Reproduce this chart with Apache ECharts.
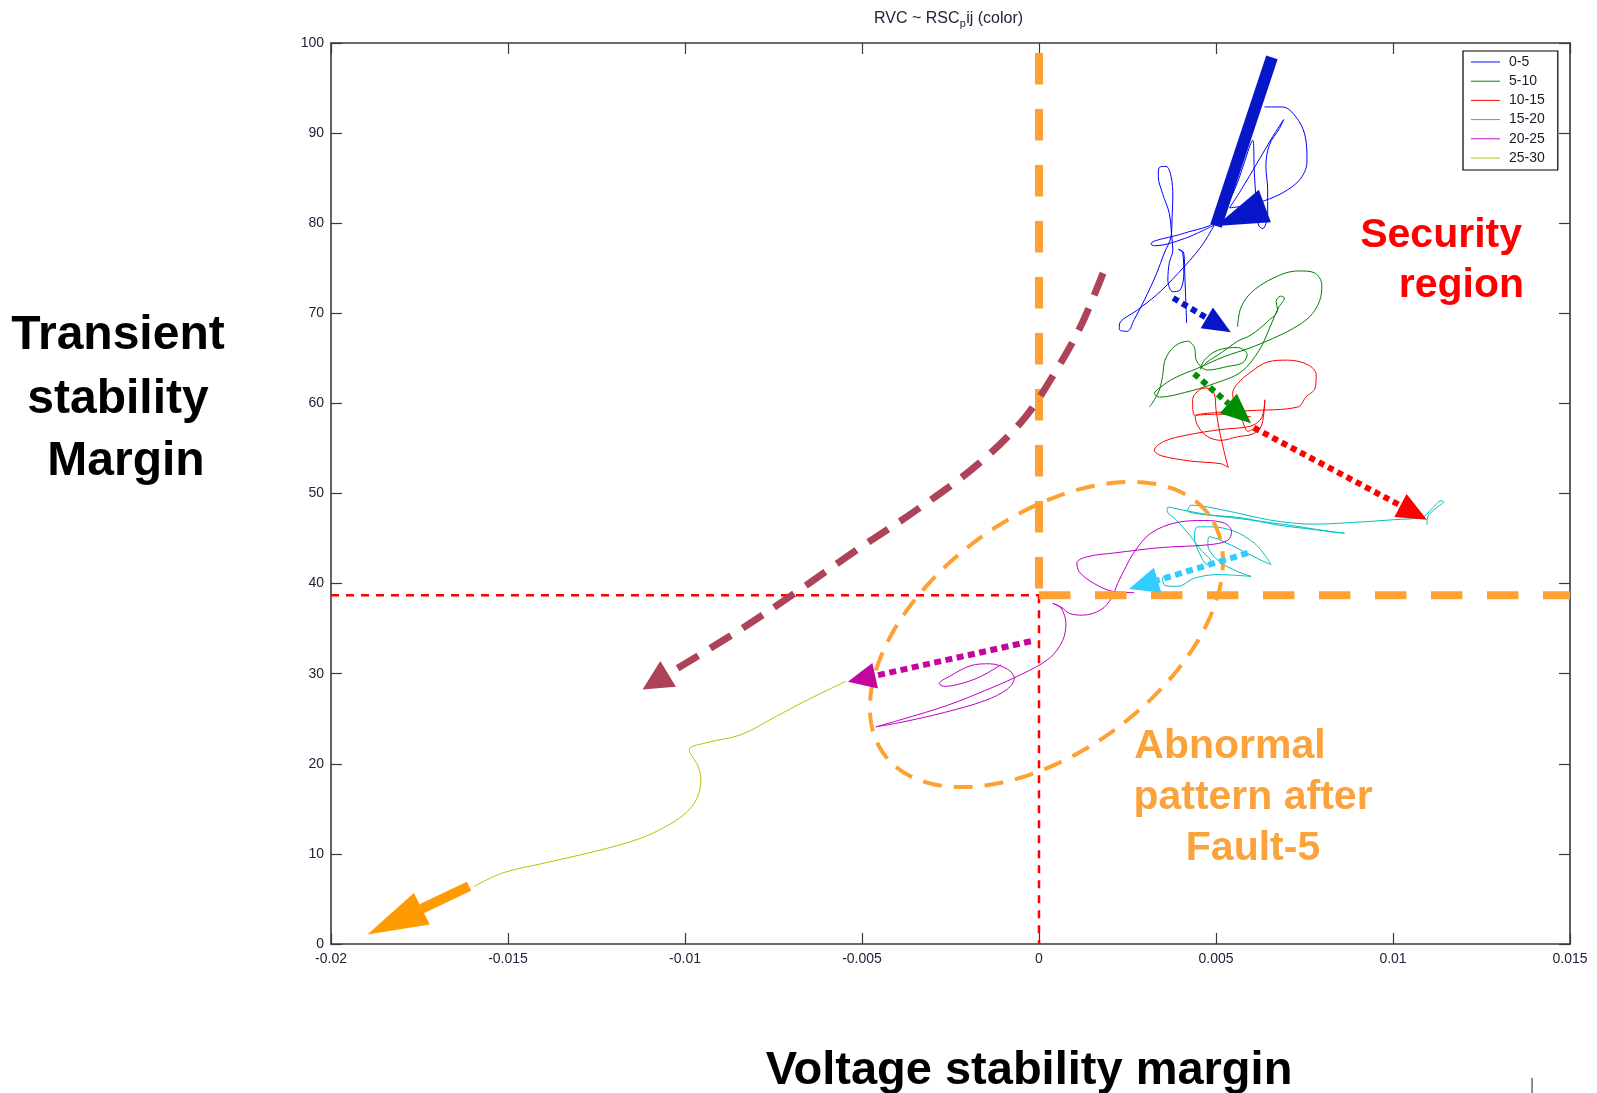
<!DOCTYPE html>
<html>
<head>
<meta charset="utf-8">
<script src="https://cdn.jsdelivr.net/npm/echarts@6/dist/echarts.min.js"></script>
<style>
  html, body { margin: 0; padding: 0; background: #ffffff; }
  #chart { width: 1597px; height: 1093px; }
</style>
</head>
<body>
<div id="chart"></div>
<script>
// ---- Operating-point trajectories: [voltage stability margin, transient stability margin] ----
const seriesNames = ['0-5', '5-10', '10-15', '15-20', '20-25', '25-30'];

const traj0to5 = [
  [0.00637,92.9],[0.00688,92.9],[0.00733,91.4],[0.00754,89.2],[0.00757,86.8],[0.00740,85.0],
  [0.00702,83.7],[0.00651,82.7],[0.00590,82.0],[0.00538,81.7],[0.00571,83.7],[0.00618,86.8],
  [0.00660,89.6],[0.00691,91.5],[0.00679,90.5],[0.00651,88.7],[0.00641,86.3],[0.00646,83.7],
  [0.00646,81.1],[0.00632,79.4],[0.00620,79.8],[0.00613,82.6],[0.00608,85.9],[0.00604,89.2],
  [0.00552,83.7],[0.00500,80.2],[0.00411,78.9],[0.00316,77.7],[0.00326,77.5],[0.00411,78.3],
  [0.00495,79.8],[0.00458,77.4],[0.00392,74.4],[0.00331,72.0],[0.00279,70.4],[0.00227,68.7],
  [0.00227,68.2],[0.00249,68.0],[0.00269,69.3],[0.00298,71.5],[0.00331,74.3],[0.00354,76.7],
  [0.00373,78.5],[0.00376,80.7],[0.00378,82.9],[0.00373,85.2],[0.00359,86.3],[0.00340,86.2],
  [0.00337,85.2],[0.00349,83.3],[0.00368,81.1],[0.00375,78.5],[0.00378,77.0],[0.00368,75.6],
  [0.00364,73.7],[0.00378,72.4],[0.00399,72.6],[0.00409,74.4],[0.00406,76.7],[0.00394,77.1],
  [0.00409,76.7],[0.00412,74.1],[0.00415,71.1],[0.00417,68.9]
];

const traj5to10 = [
  [0.00561,68.5],[0.00571,70.7],[0.00608,72.6],[0.00684,74.3],[0.00735,74.7],[0.00778,74.5],
  [0.00799,73.1],[0.00792,71.3],[0.00764,69.6],[0.00717,68.3],[0.00660,67.2],[0.00599,66.2],
  [0.00524,65.2],[0.00448,63.9],[0.00382,62.8],[0.00340,61.7],[0.00326,61.1],[0.00340,60.7],
  [0.00411,61.2],[0.00495,62.2],[0.00571,63.5],[0.00622,65.9],[0.00655,68.7],[0.00676,70.6],
  [0.00693,71.7],[0.00682,71.9],[0.00670,71.3],[0.00674,70.4],[0.00646,69.1],[0.00599,67.6],
  [0.00561,66.9],[0.00514,65.6],[0.00472,64.5],[0.00456,63.8],[0.00467,64.8],[0.00505,65.9],
  [0.00561,66.2],[0.00588,65.4],[0.00575,64.5],[0.00533,64.1],[0.00477,63.7],[0.00444,64.8],
  [0.00439,66.2],[0.00420,66.9],[0.00382,66.3],[0.00356,64.8],[0.00349,63.0],[0.00340,61.5],
  [0.00326,60.4],[0.00312,59.6]
];

const traj10to15 = [
  [0.00599,58.5],[0.00505,58.8],[0.00439,58.7],[0.00434,60.4],[0.00453,61.5],[0.00477,61.7],
  [0.00495,61.1],[0.00500,59.3],[0.00509,57.1],[0.00522,54.8],[0.00531,53.4],[0.00535,52.9],
  [0.00514,53.3],[0.00429,53.6],[0.00345,54.2],[0.00326,54.8],[0.00354,55.8],[0.00420,56.5],
  [0.00514,57.1],[0.00590,57.4],[0.00618,57.9],[0.00632,58.7],[0.00638,60.4],[0.00635,58.9],
  [0.00627,57.4],[0.00604,56.6],[0.00561,56.3],[0.00514,55.9],[0.00477,56.3],[0.00450,57.4],
  [0.00441,58.5],[0.00505,59.0],[0.00599,59.2],[0.00731,59.6],[0.00754,60.7],[0.00780,61.7],
  [0.00783,63.2],[0.00759,64.3],[0.00702,64.8],[0.00646,64.6],[0.00599,63.5],[0.00561,62.2],
  [0.00547,61.1],[0.00557,59.5],[0.00575,58.0],[0.00590,56.9],[0.00608,57.2]
];

const traj15to20 = [
  [0.01096,46.5],[0.01098,47.4],[0.01122,48.4],[0.01143,49.1],[0.01136,49.2],[0.01112,48.4],
  [0.01084,47.4],[0.01004,47.1],[0.00891,46.8],[0.00778,46.6],[0.00721,46.7],[0.00646,47.1],
  [0.00552,47.9],[0.00477,48.5],[0.00429,48.7],[0.00420,48.1],[0.00458,47.7],[0.00571,47.3],
  [0.00674,46.5],[0.00778,46.0],[0.00863,45.6],[0.00834,45.7],[0.00721,46.4],[0.00590,47.1],
  [0.00486,47.6],[0.00401,48.2],[0.00364,48.5],[0.00362,48.1],[0.00387,47.1],[0.00425,45.4],
  [0.00458,43.7],[0.00486,42.4],[0.00477,42.1],[0.00458,43.0],[0.00439,45.2],[0.00448,46.3],
  [0.00486,46.3],[0.00552,45.8],[0.00608,44.5],[0.00641,43.0],[0.00655,42.1],[0.00627,42.6],
  [0.00571,43.7],[0.00514,44.8],[0.00481,45.2],[0.00477,44.3],[0.00505,42.6],[0.00552,41.5],
  [0.00599,40.8],[0.00505,41.0],[0.00439,40.6],[0.00392,39.7],[0.00356,39.8],[0.00349,40.6],
  [0.00364,41.0]
];

const traj20to25 = [
  [0.00269,39.0],[0.00213,39.1],[0.00156,40.0],[0.00114,41.3],[0.00107,42.3],[0.00138,43.0],
  [0.00213,43.4],[0.00345,44.0],[0.00477,44.3],[0.00533,44.8],[0.00544,45.8],[0.00524,46.7],
  [0.00467,47.0],[0.00392,46.8],[0.00316,45.6],[0.00269,43.5],[0.00246,41.9],[0.00222,40.0],
  [0.00205,38.4],[0.00175,37.1],[0.00123,36.5],[0.00086,36.7],[0.00062,37.4],[0.00039,37.8],
  [0.00062,37.3],[0.00076,35.6],[0.00067,33.7],[0.00029,31.7],[-0.00051,29.9],[-0.00136,28.4],
  [-0.00258,26.5],[-0.00390,24.9],[-0.00461,24.1],[-0.00390,24.6],[-0.00267,25.7],[-0.00154,27.0],
  [-0.00089,28.3],[-0.00070,29.5],[-0.00089,30.5],[-0.00140,31.1],[-0.00192,30.9],[-0.00253,29.7],
  [-0.00282,28.9],[-0.00267,28.6],[-0.00220,28.9],[-0.00164,29.7],[-0.00107,31.0]
];

const traj25to30 = [
  [-0.00546,29.15],[-0.00662,26.93],[-0.00742,25.27],[-0.00842,23.23],[-0.00943,22.31],
  [-0.00988,21.57],[-0.00963,19.72],[-0.00955,18.24],[-0.00968,16.03],[-0.01003,14.36],
  [-0.01053,13.07],[-0.01123,11.77],[-0.01234,10.48],[-0.01395,9.00],[-0.01515,7.89],
  [-0.01595,6.41]
];

const trajectories = [traj0to5, traj5to10, traj10to15, traj15to20, traj20to25, traj25to30];
const trajColors = ['#0000ff', '#008000', '#ff0000', '#00bfbf', '#bf00bf', '#bfbf00'];

// ---- Axis tick labels ----
const xTickLabels = ['-0.02', '-0.015', '-0.01', '-0.005', '0', '0.005', '0.01', '0.015'];
const yTickLabels = ['0', '10', '20', '30', '40', '50', '60', '70', '80', '90', '100'];

// ---- Security limits (voltage margin 0, transient margin threshold) ----
const vsmLimit = 0;
const tsmLimit = 38.7;
const securityBoundary = [[vsmLimit, 98.9], [vsmLimit, tsmLimit], [0.015, tsmLimit]];
const insecureBoundaryH = [[-0.02, tsmLimit], [vsmLimit, tsmLimit]];
const insecureBoundaryV = [[vsmLimit, tsmLimit], [vsmLimit, 0]];

// ---- Transition arrows (tail ... tip) ----
const arrowStartBlue = [[0.00658, 98.4], [0.00500, 79.7]];
const arrowStartBlueHead = [[0.00500, 79.7], [0.00621, 83.7], [0.00655, 80.1]];
const arrowBlueGreen = [[0.00379, 71.7], [0.00542, 67.9]];
const arrowGreenRed = [[0.00438, 63.3], [0.00599, 57.8]];
const arrowRedCyan = [[0.00607, 57.3], [0.01096, 47.1]];
const arrowCyanMagenta = [[0.00590, 43.4], [0.00254, 39.4]];
const arrowMagentaYellow = [[-0.00023, 33.6], [-0.00540, 29.1]];
const arrowDrift = [[0.00181, 74.46], [0.00118, 68.59], [0.00046, 63.50], [-0.00040, 58.42],
  [-0.00170, 53.33], [-0.00343, 48.25], [-0.00515, 43.73], [-0.00688, 38.98],
  [-0.00861, 34.46], [-0.01120, 28.25]];
const arrowCollapse = [[-0.01610, 6.41], [-0.01744, 3.90]];
const arrowCollapseHead = [[-0.01897, 1.05], [-0.01766, 5.67], [-0.01721, 2.16]];

// ---- Abnormal-pattern region (ellipse in axis units) ----
const abnormalCenter = [0.00021, 34.35];
const abnormalSemiAxes = [0.00570, 0.00331];   // measured along the x scale
const abnormalTiltDeg = 36.5;

const FONT = '"Liberation Sans", Arial, Helvetica, sans-serif';
const AXIS_TEXT = '#26203a';

const arrows = [
  { path: arrowDrift, color: '#ad4358', width: 7, dash: [24, 14], headLen: 30, headHalf: 15, smooth: 0.35 },
  { path: arrowBlueGreen, color: '#0616c8', width: 6, dash: [6, 4.5], headLen: 28, headHalf: 12 },
  { path: arrowGreenRed, color: '#008c00', width: 6, dash: [6, 4.5], headLen: 30, headHalf: 13 },
  { path: arrowRedCyan, color: '#ff0000', width: 6, dash: [6, 4.5], headLen: 30, headHalf: 13 },
  { path: arrowCyanMagenta, color: '#33ccff', width: 6, dash: [7, 4.5], headLen: 30, headHalf: 13 },
  { path: arrowMagentaYellow, color: '#c4069e', width: 6, dash: [7, 4.5], headLen: 28, headHalf: 13 },
  { path: arrowStartBlue, head: arrowStartBlueHead, color: '#0616c8', width: 12 },
  { path: arrowCollapse, head: arrowCollapseHead, color: '#ff9a00', width: 10 }
];

function arrowElements(api, a) {
  const pts = a.path.map(p => api.coord(p));
  const n = pts.length;
  const shaft = pts.slice();
  let head;
  if (a.head) {
    head = a.head.map(p => api.coord(p));
  } else {
    const tip = pts[n - 1], prev = pts[n - 2];
    let dx = tip[0] - prev[0], dy = tip[1] - prev[1];
    const len = Math.hypot(dx, dy); dx /= len; dy /= len;
    const base = [tip[0] - dx * a.headLen, tip[1] - dy * a.headLen];
    shaft[n - 1] = base;
    head = [tip,
      [base[0] - dy * a.headHalf, base[1] + dx * a.headHalf],
      [base[0] + dy * a.headHalf, base[1] - dx * a.headHalf]];
  }
  return [
    { type: 'polyline', shape: { points: shaft, smooth: a.smooth || 0 },
      style: { stroke: a.color, lineWidth: a.width, lineDash: a.dash || null, lineCap: 'butt', fill: null } },
    { type: 'polygon', shape: { points: head }, style: { fill: a.color, stroke: null } }
  ];
}

function ellipseElement(api) {
  const c = api.coord(abnormalCenter);
  const a = api.size([abnormalSemiAxes[0], 0])[0];
  const b = api.size([abnormalSemiAxes[1], 0])[0];
  const t = abnormalTiltDeg * Math.PI / 180;
  const pts = [];
  for (let k = 0; k < 240; k++) {
    const u = k / 240 * Math.PI * 2;
    pts.push([c[0] + a * Math.cos(u) * Math.cos(t) - b * Math.sin(u) * Math.sin(t),
              c[1] - (a * Math.cos(u) * Math.sin(t) + b * Math.sin(u) * Math.cos(t))]);
  }
  return { type: 'polygon', shape: { points: pts },
    style: { stroke: '#ffa033', lineWidth: 4, lineDash: [19, 12], fill: null } };
}

function guideElements(api) {
  const line = (d, stroke, w, dash) => ({ type: 'polyline',
    shape: { points: d.map(p => api.coord(p)) },
    style: { stroke, lineWidth: w, lineDash: dash, lineCap: 'butt', fill: null } });
  return [
    line(insecureBoundaryH, '#ff0000', 2.5, [8, 7]),
    line(insecureBoundaryV, '#ff0000', 2.5, [8, 7]),
    line(securityBoundary.slice(0, 2), '#ffa033', 8, [31.5, 24.5]),
    line(securityBoundary.slice(1), '#ffa033', 8, [31.5, 24.5])
  ];
}

const chart = echarts.init(document.getElementById('chart'), null, { renderer: 'canvas' });

const lineSeries = trajectories.map((d, i) => ({
  name: seriesNames[i],
  type: 'line',
  data: d,
  showSymbol: false,
  symbol: 'none',
  smooth: 0.35,
  color: trajColors[i],
  lineStyle: { width: 1, color: trajColors[i] },
  z: 2,
  silent: true
}));

const axisCommon = {
  type: 'value',
  axisLine: { show: true, onZero: false, lineStyle: { color: '#3a3a3a', width: 1.6 } },
  axisTick: { show: true, inside: true, length: 11, lineStyle: { color: '#3a3a3a', width: 1.2 } },
  splitLine: { show: false }
};

const option = {
  animation: false,
  backgroundColor: '#ffffff',
  grid: { left: 331, right: 27, top: 43, bottom: 149, containLabel: false },
  xAxis: [
    Object.assign({}, axisCommon, {
      position: 'bottom', min: -0.02, max: 0.015, interval: 0.005,
      axisLabel: { show: true, margin: 8, fontFamily: FONT, fontSize: 14, color: AXIS_TEXT,
        formatter: v => xTickLabels[Math.round((v + 0.02) / 0.005)] }
    }),
    Object.assign({}, axisCommon, {
      position: 'top', min: -0.02, max: 0.015, interval: 0.005, axisLabel: { show: false }
    })
  ],
  yAxis: [
    Object.assign({}, axisCommon, {
      position: 'left', min: 0, max: 100, interval: 10,
      axisLabel: { show: true, margin: 7, fontFamily: FONT, fontSize: 14, color: AXIS_TEXT,
        formatter: v => yTickLabels[Math.round(v / 10)] }
    }),
    Object.assign({}, axisCommon, {
      position: 'right', min: 0, max: 100, interval: 10, axisLabel: { show: false }
    })
  ],
  legend: {
    data: seriesNames,
    orient: 'vertical',
    left: 1463, top: 51,
    padding: [4, 13, 5, 8],
    icon: 'path://M0,0 L60,0 L60,2 L0,2 Z',
    symbolKeepAspect: true,
    itemWidth: 29, itemHeight: 14, itemGap: 5.2,
    borderColor: '#000000', borderWidth: 1.2, backgroundColor: '#ffffff',
    textStyle: { fontFamily: FONT, fontSize: 14, color: '#1c1a2a', lineHeight: 14, padding: [0, 0, 0, 4] },
    selectedMode: false
  },
  series: lineSeries.concat([
    {
      type: 'custom', name: 'limits', coordinateSystem: 'cartesian2d', silent: true, z: 4,
      data: [[0, 0]],
      renderItem: (params, api) => ({ type: 'group', children: guideElements(api) })
    },
    {
      type: 'custom', name: 'abnormal', coordinateSystem: 'cartesian2d', silent: true, z: 5,
      data: [[0, 0]],
      renderItem: (params, api) => ellipseElement(api)
    },
    {
      type: 'custom', name: 'transitions', coordinateSystem: 'cartesian2d', silent: true, z: 6,
      data: arrows.map(() => [0, 0]),
      renderItem: (params, api) => ({ type: 'group', children: arrowElements(api, arrows[params.dataIndex]) })
    }
  ]),
  graphic: [
    // plot title with subscript
    { type: 'text', x: 874, y: 18.5, style: { text: 'RVC ~ RSC', font: '16px ' + FONT, fill: '#26203a', textAlign: 'left', textVerticalAlign: 'middle', verticalAlign: 'middle' } },
    { type: 'text', x: 959.8, y: 24, style: { text: 'p', font: '11px ' + FONT, fill: '#26203a', textAlign: 'left', textVerticalAlign: 'middle', verticalAlign: 'middle' } },
    { type: 'text', x: 966.2, y: 18.5, style: { text: 'ij (color)', font: '16px ' + FONT, fill: '#26203a', textAlign: 'left', textVerticalAlign: 'middle', verticalAlign: 'middle' } },
    // axis captions
    { type: 'text', x: 118, y: 336, style: { text: 'Transient', font: 'bold 48px ' + FONT, fill: '#000', textAlign: 'center', textVerticalAlign: 'middle', verticalAlign: 'middle' } },
    { type: 'text', x: 118, y: 400, style: { text: 'stability', font: 'bold 48px ' + FONT, fill: '#000', textAlign: 'center', textVerticalAlign: 'middle', verticalAlign: 'middle' } },
    { type: 'text', x: 126, y: 462, style: { text: 'Margin', font: 'bold 48px ' + FONT, fill: '#000', textAlign: 'center', textVerticalAlign: 'middle', verticalAlign: 'middle' } },
    { type: 'text', x: 1029, y: 1071, style: { text: 'Voltage stability margin', font: 'bold 47px ' + FONT, fill: '#000', textAlign: 'center', textVerticalAlign: 'middle', verticalAlign: 'middle' } },
    // region annotations
    { type: 'text', x: 1522, y: 236, z: 10, style: { text: 'Security', font: 'bold 41px ' + FONT, fill: '#ff0000', textAlign: 'right', textVerticalAlign: 'middle', verticalAlign: 'middle' } },
    { type: 'text', x: 1524, y: 286, z: 10, style: { text: 'region', font: 'bold 41px ' + FONT, fill: '#ff0000', textAlign: 'right', textVerticalAlign: 'middle', verticalAlign: 'middle' } },
    { type: 'text', x: 1230, y: 747, z: 10, style: { text: 'Abnormal', font: 'bold 41px ' + FONT, fill: '#fba23a', textAlign: 'center', textVerticalAlign: 'middle', verticalAlign: 'middle' } },
    { type: 'text', x: 1253, y: 798, z: 10, style: { text: 'pattern after', font: 'bold 41px ' + FONT, fill: '#fba23a', textAlign: 'center', textVerticalAlign: 'middle', verticalAlign: 'middle' } },
    { type: 'text', x: 1253, y: 849, z: 10, style: { text: 'Fault-5', font: 'bold 41px ' + FONT, fill: '#fba23a', textAlign: 'center', textVerticalAlign: 'middle', verticalAlign: 'middle' } },
    { type: 'text', x: 1532, y: 1086, style: { text: '|', font: '16px ' + FONT, fill: '#555', textAlign: 'center', textVerticalAlign: 'middle', verticalAlign: 'middle' } }
  ]
};

chart.setOption(option);
</script>
</body>
</html>
